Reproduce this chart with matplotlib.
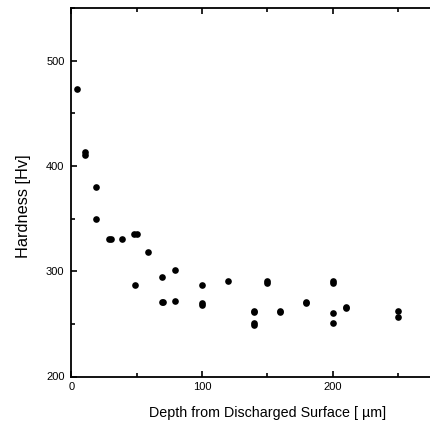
import matplotlib
matplotlib.use("Agg")
import matplotlib.pyplot as plt
from matplotlib.ticker import MultipleLocator, FixedLocator

depth = [4, 10, 10, 19, 19, 29, 30, 39, 48, 50, 49, 59, 69, 69, 70, 79, 79,
         100, 100, 100, 120, 140, 140, 140, 140, 150, 150, 160, 160, 180, 180,
         200, 200, 200, 200, 210, 210, 250, 250]
hardness = [473, 413, 411, 380, 350, 331, 331, 331, 335, 335, 287, 318, 295, 271, 271, 301, 272,
            287, 270, 268, 291, 262, 261, 251, 249, 291, 289, 262, 261, 271, 270,
            291, 289, 260, 251, 266, 265, 262, 257]
x_ticks = [0, 100, 200]
y_ticks = [200, 300, 400, 500]

xlabel = "Depth from Discharged Surface [ \u00b5m]"
ylabel = "Hardness [Hv]"

plt.rcParams['font.family'] = ['Liberation Sans', 'DejaVu Sans']
fig = plt.figure(figsize=(4.31, 4.32), dpi=100)
ax = fig.add_axes([71.5/431, (432-376.5)/432, 300*1.305/431, 368.2/432])
ax.plot(depth, hardness, 'o', color='black', markersize=4.8, markeredgewidth=0)
ax.set_xlim(0, 300)
ax.set_ylim(200, 550)
ax.xaxis.set_major_locator(FixedLocator(x_ticks))
ax.xaxis.set_minor_locator(MultipleLocator(50))
ax.yaxis.set_major_locator(FixedLocator(y_ticks))
ax.yaxis.set_minor_locator(MultipleLocator(50))
ax.tick_params(which='both', direction='in', top=True, right=True, labelsize=8, width=1.2)
ax.tick_params(axis='y', pad=5)
ax.tick_params(axis='x', pad=4)
ax.tick_params(which='major', length=4)
ax.tick_params(which='minor', length=3)
for s in ax.spines.values():
    s.set_linewidth(1.3)
ax.set_xlabel(xlabel, fontsize=10.3, labelpad=10)
ax.set_ylabel(ylabel, fontsize=11.8)
ax.yaxis.set_label_coords((31 - 71.5)/391.5, (376.5-206)/368.2)
fig.savefig("out.png", dpi=100)
